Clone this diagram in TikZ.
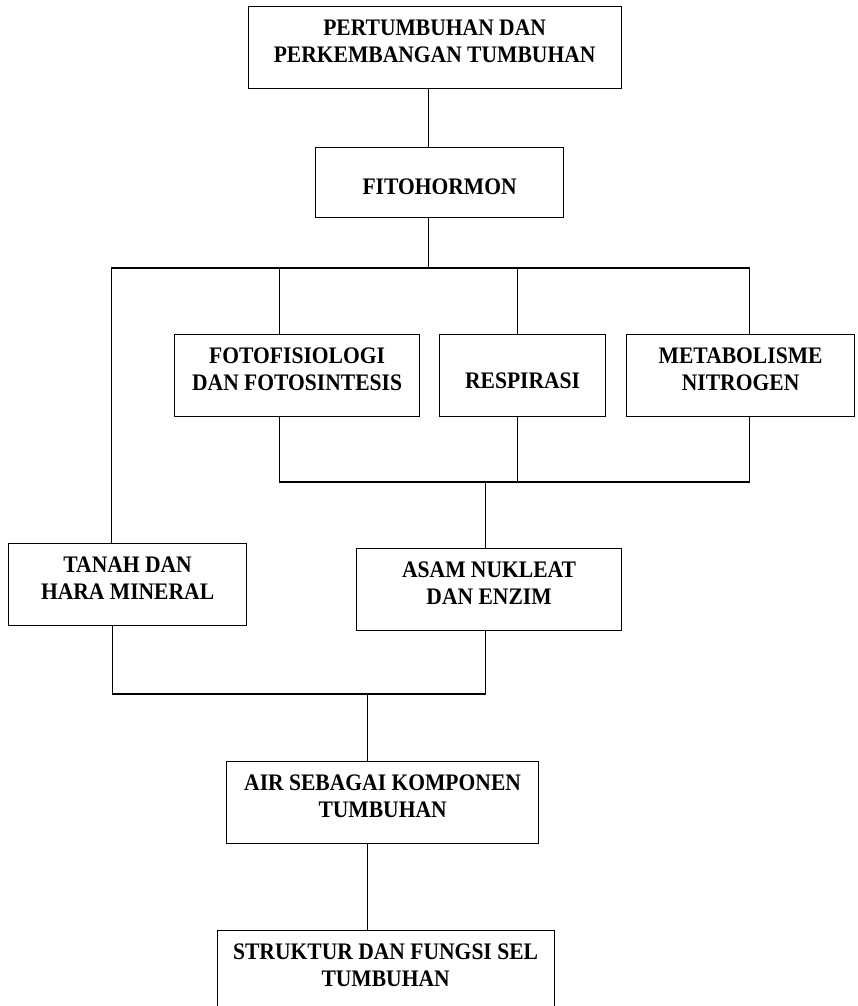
\documentclass[tikz,border=0pt]{standalone}
\usepackage{fontspec}
\setmainfont{Liberation Serif}[FakeStretch=0.91]

\newcommand{\isi}[4][14.5pt]{\parbox[t][#3][t]{#2}{\centering\rule{0pt}{#1}#4}}

\begin{document}
\begin{tikzpicture}[x=0.5pt,y=-0.5pt,line width=0.6pt,font=\fontsize{11.85}{13.35}\selectfont\bfseries]
  \tikzstyle{kotak}=[draw=black,rectangle,inner sep=0pt,anchor=north west]
  \useasboundingbox (0,0) rectangle (857,1006);

  \node[kotak] (tumbuh) at (247.5,6) {\isi{186.5pt}{41pt}{PERTUMBUHAN DAN\\PERKEMBANGAN TUMBUHAN}};
  \node[kotak] (fito) at (315,147) {\isi[23.5pt]{124pt}{35pt}{FITOHORMON}};
  \node[kotak] (foto) at (174,334) {\isi{122.5pt}{41pt}{FOTOFISIOLOGI\\DAN FOTOSINTESIS}};
  \node[kotak] (resp) at (439,334) {\isi[26.75pt]{83pt}{41pt}{RESPIRASI}};
  \node[kotak] (meta) at (626,334) {\isi{114pt}{41pt}{METABOLISME\\NITROGEN}};
  \node[kotak] (tanah) at (8,543) {\isi{119pt}{41pt}{TANAH DAN\\HARA MINERAL}};
  \node[kotak] (asam) at (356,548) {\isi{132.5pt}{41pt}{ASAM NUKLEAT\\DAN ENZIM}};
  \node[kotak] (air) at (226,761) {\isi{156pt}{41pt}{AIR SEBAGAI KOMPONEN\\TUMBUHAN}};
  \node[kotak] (sel) at (216.5,930) {\isi{168.5pt}{41pt}{STRUKTUR DAN FUNGSI SEL\\TUMBUHAN}};

  % titik cabang
  \coordinate (j1) at (428.5,268);
  \coordinate (j2) at (485.5,482);
  \coordinate (j3) at (367.5,694);

  \draw (tumbuh.south -| j1) -- (fito.north -| j1);
  \draw (fito.south -| j1) -- (j1);
  \draw ([xshift=-8pt]tanah.north) |- (j1) -| ([xshift=4.5pt]meta.north);
  \draw ([xshift=-8.75pt]foto.north) -- ([xshift=-8.75pt]foto.north |- j1);
  \draw ([xshift=-2.5pt]resp.north) -- ([xshift=-2.5pt]resp.north |- j1);

  \draw ([xshift=-8.75pt]foto.south) |- (j2) -| ([xshift=4.5pt]meta.south);
  \draw ([xshift=-2.5pt]resp.south) -- ([xshift=-2.5pt]resp.south |- j2);
  \draw (j2) -- (asam.north -| j2);

  \draw ([xshift=-7.5pt]tanah.south) |- (j3) -| (asam.south -| j2);
  \draw (j3) -- (air.north -| j3);
  \draw (air.south -| j3) -- (sel.north -| j3);
\end{tikzpicture}
\end{document}
